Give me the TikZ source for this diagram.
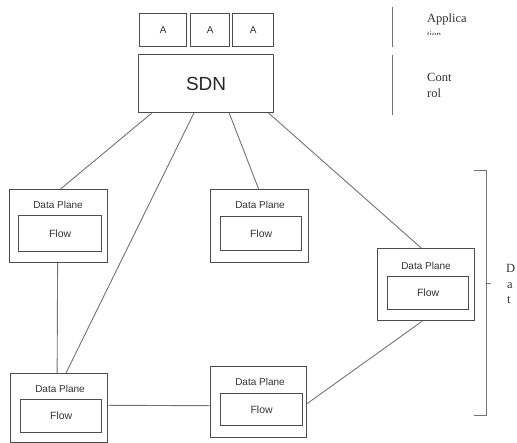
\documentclass[tikz,border=0pt]{standalone}
\usepackage{fontspec}
\setmainfont{Liberation Serif}
\setsansfont{Liberation Sans}
\usetikzlibrary{calc}
\begin{document}
\begin{tikzpicture}[x=1pt,y=-1pt,
  box/.style={draw=black!70, line width=1.2pt, inner sep=0pt, anchor=north west},
  link/.style={draw=black!55, line width=0.9pt},
  dptext/.style={font=\sffamily\fontsize{10}{12}\selectfont, text=black!80, anchor=base, inner sep=0pt},
  flowtext/.style={font=\sffamily\fontsize{10.5}{12}\selectfont, text=black!80, inner sep=0pt},
  sidetext/.style={font=\rmfamily\fontsize{12.5}{15}\selectfont, text=black!80, anchor=base west, inner sep=0pt}]
\useasboundingbox (0,0) rectangle (517,443);
\clip (0,0) rectangle (517,443);
% application boxes
\node[box, minimum width=47, minimum height=33] (a1) at (139,13) {};
\node[box, minimum width=39, minimum height=33] (a2) at (190,13) {};
\node[box, minimum width=41, minimum height=33] (a3) at (232,13) {};
\foreach \n in {a1,a2,a3}{\node[flowtext, font=\sffamily\fontsize{10}{11}\selectfont] at (\n.center) {A};}
% SDN controller
\node[box, minimum width=135, minimum height=58] (sdn) at (138,54) {};
\node[font=\sffamily\fontsize{19}{22}\selectfont, text=black!85] (sdnt) at (sdn.center) {SDN};
% data plane boxes: outer, inner, labels
\node[box, minimum width=98, minimum height=73] (dp1) at (9,189) {};
\node[box, minimum width=83, minimum height=36] (f1) at (18,215) {};
\node[dptext] (l1) at (58,209) {Data Plane};
\node[flowtext] (t1) at (f1.center) {Flow};

\node[box, minimum width=98, minimum height=73] (dp2) at (210,189) {};
\node[box, minimum width=81, minimum height=34] (f2) at (220,216) {};
\node[dptext] (l2) at (260,209) {Data Plane};
\node[flowtext] (t2) at (f2.center) {Flow};

\node[box, minimum width=97, minimum height=72] (dp3) at (377,248) {};
\node[box, minimum width=81, minimum height=33] (f3) at (387,276) {};
\node[dptext] (l3) at (426,270) {Data Plane};
\node[flowtext] (t3) at (f3.center) {Flow};

\node[box, minimum width=97, minimum height=69] (dp4) at (10,373) {};
\node[box, minimum width=81, minimum height=33] (f4) at (20,399) {};
\node[dptext] (l4) at (60,393) {Data Plane};
\node[flowtext] (t4) at (f4.center) {Flow};

\node[box, minimum width=96, minimum height=71] (dp5) at (210,366) {};
\node[box, minimum width=82, minimum height=32] (f5) at (220,393) {};
\node[dptext] (l5) at (260,386) {Data Plane};
\node[flowtext] (t5) at (f5.center) {Flow};
% connectors
\draw[link] ($(sdn.south west)!0.10!(sdn.south east)$) -- ($(dp1.north west)!0.52!(dp1.north east)$);
\draw[link] ($(sdn.south west)!0.41!(sdn.south east)$) -- ($(dp4.north west)!0.57!(dp4.north east)$);
\draw[link] ($(sdn.south west)!0.67!(sdn.south east)$) -- ($(dp2.north west)!0.49!(dp2.north east)$);
\draw[link] ($(sdn.south west)!0.96!(sdn.south east)$) -- ($(dp3.north west)!0.45!(dp3.north east)$);
\draw[link] ($(dp1.south west)!0.49!(dp1.south east)$) -- ($(dp4.north west)!0.48!(dp4.north east)$);
\draw[link] ($(dp4.north east)!0.46!(dp4.south east)$) -- ($(dp5.north west)!0.55!(dp5.south west)$);
\draw[link] ($(dp3.south west)!0.46!(dp3.south east)$) -- ($(dp5.north east)!0.52!(dp5.south east)$);
% layer markers
\draw[link, line width=0.8pt] (392,7) -- (392,47);
\draw[link, line width=0.8pt] (392,55) -- (392,115);
\node[sidetext] (app1) at (427,23) {Applica};
\begin{scope}
\clip (420,28) rectangle (480,35);
\node[sidetext, font=\rmfamily\fontsize{9}{10}\selectfont] (app2) at (427,38) {tion};
\end{scope}
\node[sidetext] (ctl1) at (427,82) {Cont};
\node[sidetext] (ctl2) at (427,98) {rol};
% brace for data planes
\draw[link, line width=0.9pt] (474,170) -- (486,170) -- (486,415) -- (474,415);
\draw[link, line width=0.9pt] (486,283) -- (491,283);
\node[sidetext] (dpa) at (506,273) {D};
\node[sidetext] (dpb) at (507,289) {a};
\node[sidetext] (dpc) at (507,304) {t};
\end{tikzpicture}
\end{document}
